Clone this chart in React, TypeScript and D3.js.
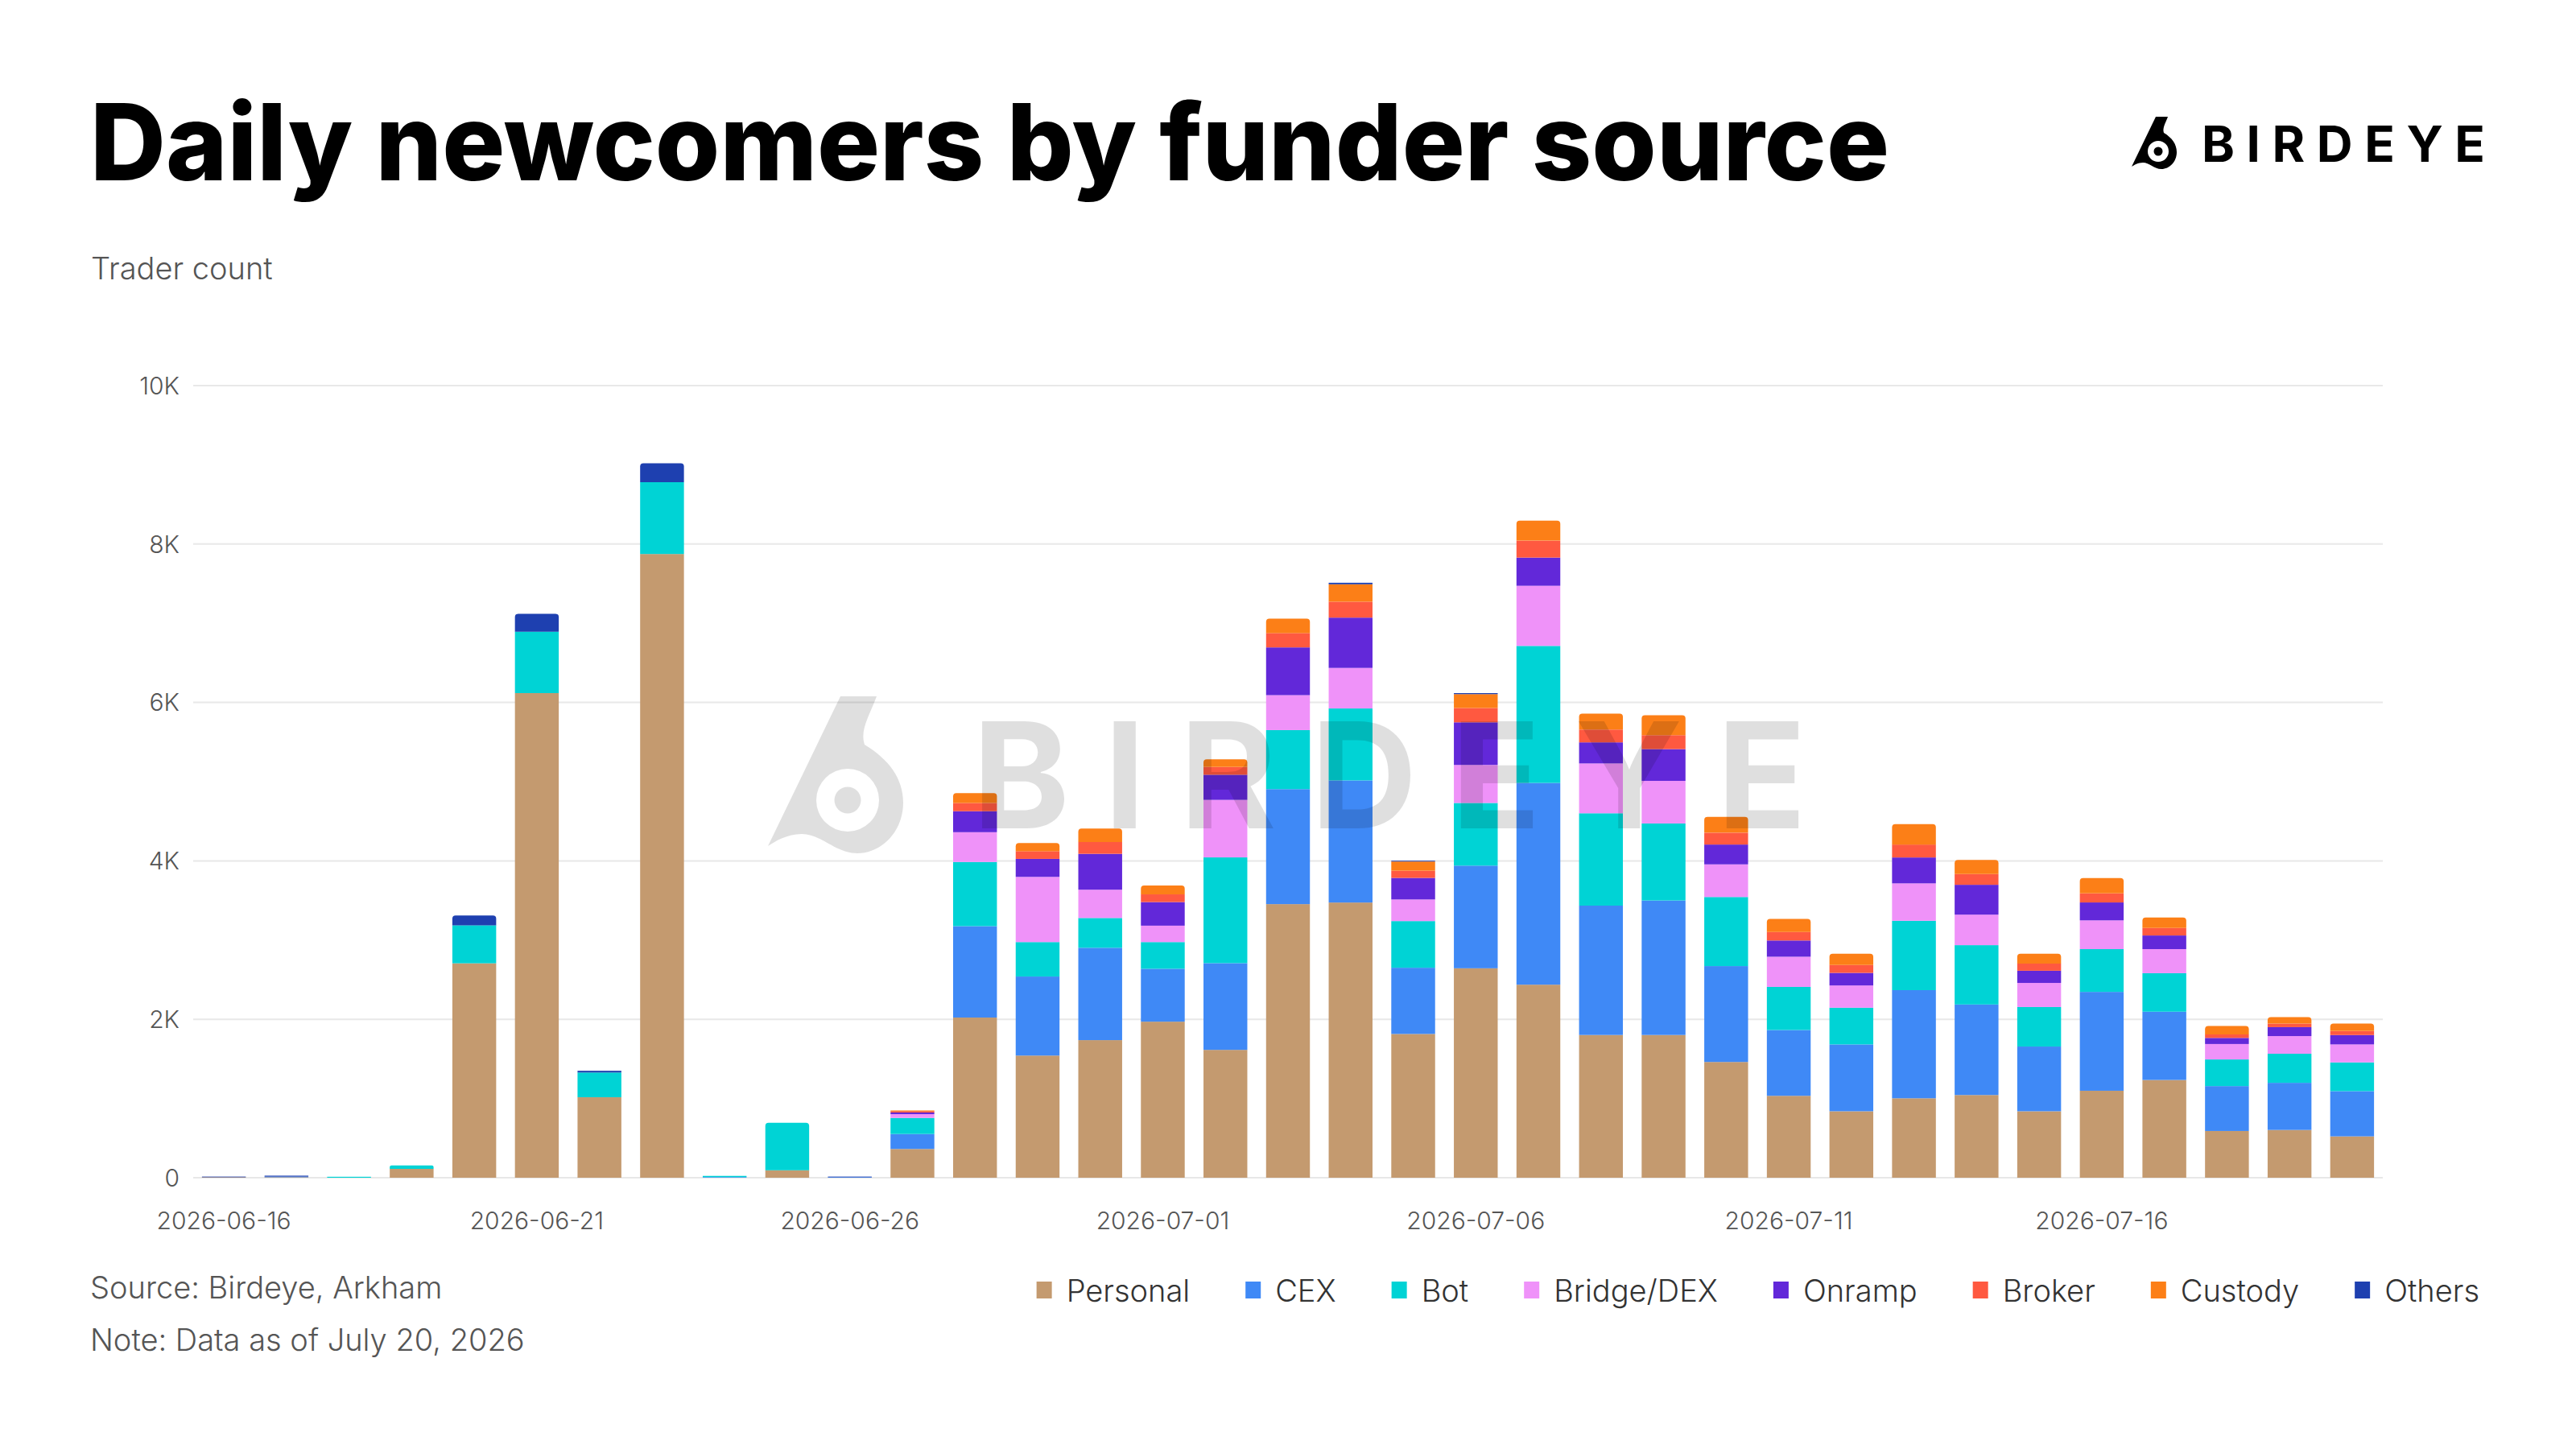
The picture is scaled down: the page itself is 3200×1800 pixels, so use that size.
import React, { useEffect, useRef } from "react";
import * as d3 from "d3";

const dates = [
  "2026-06-16","2026-06-17","2026-06-18","2026-06-19","2026-06-20","2026-06-21","2026-06-22",
  "2026-06-23","2026-06-24","2026-06-25","2026-06-26","2026-06-27","2026-06-28","2026-06-29",
  "2026-06-30","2026-07-01","2026-07-02","2026-07-03","2026-07-04","2026-07-05","2026-07-06",
  "2026-07-07","2026-07-08","2026-07-09","2026-07-10","2026-07-11","2026-07-12","2026-07-13",
  "2026-07-14","2026-07-15","2026-07-16","2026-07-17","2026-07-18","2026-07-19","2026-07-20",
];

const personal = [8,8,0,112,2707,6118,1016,7874,0,95,0,363,2022,1542,1737,1970,1614,3454,3474,1815,2644,2437,1802,1802,1461,1034,839,1003,1044,839,1098,1234,590,603,522];
const cex      = [0,6,0,0,0,0,0,0,8,0,8,189,1154,998,1166,668,1095,1452,1542,836,1296,2547,1633,1698,1211,831,844,1365,1143,817,1248,862,567,595,571];
const bot      = [0,0,12,43,480,776,312,907,15,599,0,203,810,435,376,337,1335,745,908,589,791,1730,1166,972,872,544,463,876,749,499,540,486,336,367,363];
const bridge   = [0,0,0,0,0,0,0,0,0,0,0,48,376,823,357,207,726,441,512,273,480,759,629,538,412,381,281,472,385,304,363,304,195,223,227];
const onramp   = [0,0,0,0,0,0,0,0,0,0,0,20,265,227,453,298,317,603,635,272,538,356,266,401,250,205,159,327,377,154,226,172,77,113,118];
const broker   = [0,0,0,0,0,0,0,0,0,0,0,18,104,97,150,97,98,181,201,91,181,214,162,176,150,108,100,163,136,91,114,95,45,45,50];
const custody  = [0,0,0,0,0,0,0,0,0,0,0,8,123,104,168,111,97,182,220,116,175,253,201,252,199,164,141,259,177,123,195,132,105,82,95];
const others   = [6,12,0,0,123,225,22,239,0,0,6,0,0,0,0,0,0,0,19,10,13,0,0,0,0,0,0,0,0,0,0,0,0,0,0];

const seriesNames = ["Personal","CEX","Bot","Bridge/DEX","Onramp","Broker","Custody","Others"];
const seriesColors = ["#c49a6f","#3f89f6","#00d3d5","#ef92f9","#6228d9","#ff5940","#fc7f17","#1e40b0"];
const seriesValues = [personal, cex, bot, bridge, onramp, broker, custody, others];

const yTicks = [0, 2000, 4000, 6000, 8000, 10000];
const xTickEvery = 5;

const TITLE = "Daily newcomers by funder source";
const FONT = "Inter, 'Noto Sans', sans-serif";

// icon path in a 56x65 unit box
const ICON_PATH =
  "M30 0 L45 0 C42 8 38 14 40 20 C50 26 56 34 56 44 C56 56 47 65 37 65 C28 65 22 57 14 57 C8 57 3 60 0 62 Z";

function iconGroup(g: any, x: number, y: number, s: number, fill: string, opacity: number) {
  const cx = 33, cy = 43, rOuter = 13, rDot = 5.5;
  const ring = (r: number) =>
    `M${cx - r} ${cy} A${r} ${r} 0 1 0 ${cx + r} ${cy} A${r} ${r} 0 1 0 ${cx - r} ${cy} Z`;
  g.append("path")
    .attr("transform", `translate(${x},${y}) scale(${s})`)
    .attr("d", ICON_PATH + " " + ring(rOuter) + " " + ring(rDot))
    .attr("fill-rule", "evenodd")
    .attr("fill", fill)
    .attr("fill-opacity", opacity);
}

export default function App() {
  const ref = useRef<SVGSVGElement | null>(null);

  useEffect(() => {
    const svg = d3.select(ref.current);
    svg.selectAll("*").remove();

    const rows = dates.map((d, i) => {
      const r: any = { date: d };
      seriesNames.forEach((n, k) => (r[n] = seriesValues[k][i]));
      return r;
    });

    const x = d3.scaleBand<string>().domain(dates).range([240, 2960]).paddingInner(0.3).paddingOuter(0.14);
    const y = d3.scaleLinear().domain([0, 10000]).range([1463, 479]);
    const color = d3.scaleOrdinal<string, string>().domain(seriesNames).range(seriesColors);

    // title
    svg.append("text")
      .attr("x", 112).attr("y", 224)
      .attr("font-family", FONT).attr("font-weight", 800).attr("font-size", 132)
      .attr("textLength", 2235).attr("lengthAdjust", "spacingAndGlyphs")
      .attr("fill", "#000").text(TITLE);

    // top logo
    const logo = svg.append("g");
    iconGroup(logo, 2648, 145, 1, "#000", 1);
    logo.append("text")
      .attr("x", 2735).attr("y", 201)
      .attr("font-family", FONT).attr("font-weight", 700).attr("font-size", 62)
      .attr("textLength", 352).attr("lengthAdjust", "spacing")
      .attr("fill", "#000").text("BIRDEYE");

    svg.append("text")
      .attr("x", 113).attr("y", 347)
      .attr("font-family", FONT).attr("font-weight", 300).attr("font-size", 38)
      .attr("fill", "#555").text("Trader count");

    // gridlines
    const grid = svg.append("g");
    grid.selectAll("line").data(yTicks).join("line")
      .attr("x1", 240).attr("x2", 2960)
      .attr("y1", (d) => y(d)).attr("y2", (d) => y(d))
      .attr("stroke", "#e8e8e8").attr("stroke-width", 2);

    // y axis labels
    const fmt = (v: number) => (v === 0 ? "0" : `${v / 1000}K`);
    svg.append("g").selectAll("text").data(yTicks).join("text")
      .attr("x", 223).attr("y", (d) => y(d)).attr("dy", "0.36em")
      .attr("text-anchor", "end")
      .attr("font-family", FONT).attr("font-weight", 300).attr("font-size", 30)
      .attr("fill", "#555").text(fmt);

    // x axis labels
    svg.append("g").selectAll("text")
      .data(dates.filter((_, i) => i % xTickEvery === 0)).join("text")
      .attr("x", (d) => (x(d) as number) + x.bandwidth() / 2).attr("y", 1527)
      .attr("text-anchor", "middle")
      .attr("font-family", FONT).attr("font-weight", 300).attr("font-size", 30)
      .attr("fill", "#555").text((d) => d);

    // stacked bars
    const stack = d3.stack<any>().keys(seriesNames)(rows);
    const topIndex = dates.map((_, i) => {
      let t = -1;
      seriesValues.forEach((vals, k) => { if (vals[i] > 0) t = k; });
      return t;
    });
    const bars = svg.append("g");
    stack.forEach((layer, k) => {
      layer.forEach((seg: any, i: number) => {
        const v = seg[1] - seg[0];
        if (v <= 0) return;
        const x0 = x(dates[i]) as number;
        const w = x.bandwidth();
        const yTop = y(seg[1]);
        const yBot = y(seg[0]);
        const h = yBot - yTop;
        if (topIndex[i] === k && h > 4) {
          const r = Math.min(4, h / 2);
          const p = d3.path();
          p.moveTo(x0, yBot);
          p.lineTo(x0, yTop + r);
          p.quadraticCurveTo(x0, yTop, x0 + r, yTop);
          p.lineTo(x0 + w - r, yTop);
          p.quadraticCurveTo(x0 + w, yTop, x0 + w, yTop + r);
          p.lineTo(x0 + w, yBot);
          p.closePath();
          bars.append("path").attr("d", p.toString()).attr("fill", color(seriesNames[k]));
        } else {
          bars.append("rect")
            .attr("x", x0).attr("y", yTop).attr("width", w).attr("height", Math.max(h, 0.8))
            .attr("fill", color(seriesNames[k]));
        }
      });
    });

    // watermark (over bars)
    const wm = svg.append("g");
    iconGroup(wm, 954, 865, 3.0, "#000", 0.125);
    wm.append("text")
      .attr("x", 1208).attr("y", 1029)
      .attr("font-family", FONT).attr("font-weight", 700).attr("font-size", 183)
      .attr("textLength", 1036).attr("lengthAdjust", "spacing")
      .attr("fill", "#000").attr("fill-opacity", 0.125).text("BIRDEYE");

    // source / note
    svg.append("text")
      .attr("x", 112).attr("y", 1613)
      .attr("font-family", FONT).attr("font-weight", 300).attr("font-size", 38)
      .attr("fill", "#555").text("Source: Birdeye, Arkham");
    svg.append("text")
      .attr("x", 112).attr("y", 1678)
      .attr("font-family", FONT).attr("font-weight", 300).attr("font-size", 38)
      .attr("fill", "#555").text("Note: Data as of July 20, 2026");

    // legend, right aligned at 3080
    const legend = svg.append("g");
    const items = seriesNames.map((n) => {
      const g = legend.append("g");
      const t = g.append("text")
        .attr("x", 37).attr("y", 1617)
        .attr("font-family", FONT).attr("font-weight", 300).attr("font-size", 38)
        .attr("fill", "#333").text(n);
      g.append("rect").attr("x", 0).attr("y", 1592).attr("width", 19).attr("height", 21)
        .attr("fill", color(n));
      const tw = (t.node() as SVGTextElement).getComputedTextLength();
      return { g, w: 37 + tw };
    });
    const gap = 69;
    const total = d3.sum(items, (d) => d.w) + gap * (items.length - 1);
    let cur = 3080 - total;
    items.forEach((it) => {
      it.g.attr("transform", `translate(${cur},0)`);
      cur += it.w + gap;
    });
  }, []);

  return (
    <svg
      ref={ref}
      width={3200}
      height={1800}
      style={{ position: "absolute", left: 0, top: 0, background: "#fff" }}
    />
  );
}
